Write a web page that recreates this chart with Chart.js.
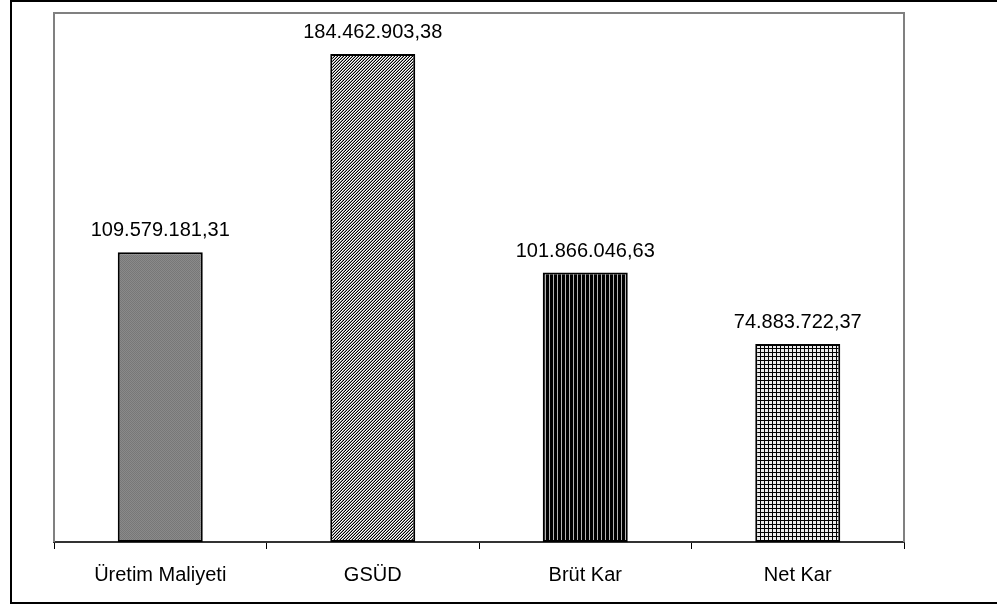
<!DOCTYPE html>
<html>
<head>
<meta charset="utf-8">
<script src="https://cdn.jsdelivr.net/npm/chart.js@4"></script>
<style>
  body { margin: 0; background: #fff; }
  canvas { display: block; }
</style>
</head>
<body>
<canvas id="chart" width="997" height="608"></canvas>
<script>
const categories = ['Üretim Maliyeti', 'GSÜD', 'Brüt Kar', 'Net Kar'];
const values = [109579181.31, 184462903.38, 101866046.63, 74883722.37];
const yMin = 0;
const yMax = 200000000;

const FONT = '"Liberation Sans", Arial, sans-serif';

function formatTr (v) {
  const parts = v.toFixed(2).split('.');
  const intPart = parts[0].replace(/\B(?=(\d{3})+(?!\d))/g, '.');
  return intPart + ',' + parts[1];
}

function makePattern (size, paint) {
  const c = document.createElement('canvas');
  c.width = size;
  c.height = size;
  const ctx = c.getContext('2d');
  paint(ctx, size);
  return document.getElementById('chart').getContext('2d').createPattern(c, 'repeat');
}

// fine grey dots
const greyDots = makePattern(2, (ctx) => {
  ctx.fillStyle = '#8a8a8a'; ctx.fillRect(0, 0, 2, 2);
  ctx.fillStyle = '#777777'; ctx.fillRect(0, 0, 1, 1); ctx.fillRect(1, 1, 1, 1);
});

// fine diagonal stripes
const diagShades = ['#000000', '#ffffff', '#9a9a9a'];
const diagonal = makePattern(3, (ctx, s) => {
  for (let x = 0; x < s; x++) {
    for (let y = 0; y < s; y++) {
      ctx.fillStyle = diagShades[(x + y) % 3];
      ctx.fillRect(x, y, 1, 1);
    }
  }
});

// vertical stripes
const vertical = makePattern(4, (ctx, s) => {
  ctx.fillStyle = '#000000'; ctx.fillRect(0, 0, s, s);
  ctx.fillStyle = '#b4b4b4'; ctx.fillRect(1, 0, 1, s);
});

// grid
const grid = makePattern(4, (ctx, s) => {
  ctx.fillStyle = '#ececec'; ctx.fillRect(0, 0, s, s);
  ctx.fillStyle = '#000000';
  ctx.fillRect(0, 0, s, 1);
  ctx.fillRect(0, 0, 1, s);
});

const framePlugin = {
  id: 'frame',
  beforeDatasetsDraw (chart) {
    const { ctx, chartArea: a } = chart;
    ctx.save();
    ctx.strokeStyle = '#808080';
    ctx.lineWidth = 2;
    ctx.beginPath();
    ctx.moveTo(a.left, a.bottom);
    ctx.lineTo(a.left, a.top);
    ctx.lineTo(a.right, a.top);
    ctx.lineTo(a.right, a.bottom);
    ctx.stroke();
    ctx.restore();
  },
  afterDraw (chart) {
    const ctx = chart.ctx;
    ctx.save();
    ctx.strokeStyle = '#000000';
    ctx.lineWidth = 2;
    ctx.strokeRect(11, 1, 1000, 602);
    ctx.restore();
  }
};

const valueLabels = {
  id: 'valueLabels',
  afterDatasetsDraw (chart) {
    const ctx = chart.ctx;
    const meta = chart.getDatasetMeta(0);
    ctx.save();
    ctx.font = '20px ' + FONT;
    ctx.fillStyle = '#000000';
    ctx.textAlign = 'center';
    ctx.textBaseline = 'alphabetic';
    meta.data.forEach((bar, i) => {
      ctx.fillText(formatTr(values[i]), bar.x, bar.y - 16);
    });
    ctx.restore();
  }
};

new Chart(document.getElementById('chart'), {
  type: 'bar',
  data: {
    labels: categories,
    datasets: [{
      data: values,
      backgroundColor: [greyDots, diagonal, vertical, grid],
      borderColor: '#000000',
      borderWidth: 2,
      borderSkipped: false,
      barPercentage: 0.4,
      categoryPercentage: 1
    }]
  },
  options: {
    responsive: false,
    animation: false,
    layout: { padding: { left: 54, top: 13, right: 93, bottom: 0 } },
    plugins: {
      legend: { display: false },
      tooltip: { enabled: false }
    },
    scales: {
      x: {
        offset: true,
        afterFit: (scale) => { scale.height = 66; },
        grid: {
          offset: true,
          drawOnChartArea: false,
          drawTicks: true,
          tickLength: 7,
          color: '#000000',
          lineWidth: 1
        },
        border: { display: true, color: '#333333', width: 2 },
        ticks: {
          color: '#000000',
          font: { family: FONT, size: 20 },
          padding: 14,
          maxRotation: 0
        }
      },
      y: {
        display: false,
        min: yMin,
        max: yMax
      }
    }
  },
  plugins: [framePlugin, valueLabels]
});
</script>
</body>
</html>
